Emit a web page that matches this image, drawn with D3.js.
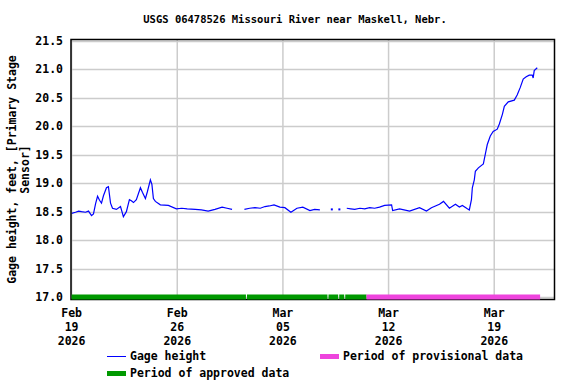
<!DOCTYPE html>
<html>
<head>
<meta charset="utf-8">
<script src="https://cdn.jsdelivr.net/npm/d3@7"></script>
<style>
  body { margin: 0; background: #fff; }
  svg text { font-family: "DejaVu Sans Mono", "Liberation Mono", monospace; font-weight: bold; fill: #000; }
</style>
</head>
<body>
<div id="chart"></div>
<script>
// data (days after Feb 19 2026 00:00, gage height in feet)
const startDate = new Date(2026, 1, 19);
const endDate = new Date(2026, 2, 23);

const dayOffsets = [
  0.00, 0.26, 0.46, 0.66, 0.92, 1.12, 1.32, 1.45, 1.59, 1.72, 1.85, 1.98, 2.11, 2.31, 2.44, 2.58,
  2.71, 2.97, 3.24, 3.37, 3.43, 3.63, 3.83, 3.96, 4.10, 4.29, 4.56, 4.69, 4.89, 5.02, 5.22, 5.32,
  5.42, 5.55, 5.88, 6.41, 6.94, 7.30, 7.66, 8.19, 8.60, 9.05, 9.50, 9.97, 10.30, 10.63, 10.70,
  11.45, 11.80, 12.15, 12.50, 12.81, 13.10, 13.41, 13.80, 14.13, 14.53, 14.93, 15.32, 15.79, 16.10, 16.45, 16.52,
  17.24, 17.30, 17.50, 17.74, 17.80, 18.00,
  18.23, 18.50, 18.76, 19.10, 19.42, 19.75, 20.08, 20.40, 20.74, 21.20, 21.27, 21.73, 22.39, 23.05, 23.51, 23.84, 24.37, 24.64,
  25.03, 25.43, 25.69, 25.89, 26.22, 26.35, 26.49, 26.55, 26.68, 26.75, 26.95, 27.28, 27.41, 27.54,
  27.74, 27.93, 28.20, 28.34, 28.54, 28.67, 28.93, 29.33, 29.52, 29.72, 29.92, 30.12, 30.32, 30.52,
  30.58, 30.65, 30.85
];

const gageHeight = [
  18.47, 18.49, 18.51, 18.50, 18.49, 18.51, 18.43, 18.46, 18.64, 18.77, 18.70, 18.65, 18.78, 18.92, 18.94, 18.65,
  18.56, 18.54, 18.59, 18.47, 18.41, 18.50, 18.71, 18.69, 18.66, 18.71, 18.92, 18.84, 18.73, 18.85, 19.06, 18.98,
  18.73, 18.68, 18.62, 18.61, 18.55, 18.56, 18.55, 18.54, 18.53, 18.51, 18.54, 18.58, 18.56, 18.54, null,
  18.54, 18.56, 18.57, 18.56, 18.59, 18.60, 18.62, 18.58, 18.57, 18.49, 18.56, 18.58, 18.52, 18.54, 18.53, null,
  18.54, null, null, 18.54, null, null,
  18.56, 18.55, 18.54, 18.56, 18.55, 18.57, 18.56, 18.58, 18.61, 18.62, 18.52, 18.55, 18.51, 18.57, 18.51, 18.57, 18.63, 18.68,
  18.56, 18.63, 18.58, 18.61, 18.55, 18.53, 18.71, 18.92, 19.06, 19.21, 19.27, 19.34, 19.51, 19.68,
  19.83, 19.91, 19.95, 20.04, 20.21, 20.35, 20.43, 20.46, 20.55, 20.68, 20.83, 20.87, 20.90, 20.90,
  20.85, 20.98, 21.03
];

// approval periods, [from, to] in days after start
const approvedPeriods = [[0, 11.55], [11.62, 16.95], [17.02, 17.66], [17.73, 18.06], [18.13, 19.54]];
const provisionalPeriods = [[19.54, 31.04]];

const yTicks = [17.0, 17.5, 18.0, 18.5, 19.0, 19.5, 20.0, 20.5, 21.0, 21.5];
const xTickDays = [0, 7, 14, 21, 28];

const W = 576, H = 384;
const plot = {left: 71, right: 554.5, top: 39.5, bottom: 299.5};

const svg = d3.select("#chart").append("svg")
  .attr("width", W).attr("height", H);

const dayMs = 864e5;
const toDate = d => new Date(startDate.getTime() + d * dayMs);

const x = d3.scaleTime().domain([startDate, endDate]).range([71.6, 554.6]);
const y = d3.scaleLinear().domain([16.956, 21.526]).range([plot.bottom, plot.top]);

const data = dayOffsets.map((d, i) => ({date: toDate(d), v: gageHeight[i]}));

// grid
svg.append("g").selectAll("line").data(yTicks).join("line")
  .attr("x1", plot.left).attr("x2", plot.right)
  .attr("y1", d => Math.round(y(d)) + 0.5).attr("y2", d => Math.round(y(d)) + 0.5)
  .attr("stroke", "#cccccc").attr("stroke-width", 1.5);

svg.append("g").selectAll("line").data(xTickDays).join("line")
  .attr("x1", d => x(toDate(d))).attr("x2", d => x(toDate(d)))
  .attr("y1", plot.top).attr("y2", plot.bottom)
  .attr("stroke", "#cccccc").attr("stroke-width", 1.5);

// gage height line
const line = d3.line()
  .defined(d => d.v != null)
  .x(d => x(d.date)).y(d => y(d.v));

svg.append("path").datum(data)
  .attr("fill", "none").attr("stroke", "#0000ff").attr("stroke-width", 1.2)
  .attr("d", line);

// lone points between gaps
svg.append("g").selectAll("rect")
  .data(data.filter((d, i) => d.v != null && data[i - 1] && data[i - 1].v == null && data[i + 1] && data[i + 1].v == null))
  .join("rect")
  .attr("x", d => x(d.date) - 1).attr("y", d => y(d.v) - 1)
  .attr("width", 2).attr("height", 2).attr("fill", "#0000ff");

// frame
svg.append("rect")
  .attr("x", plot.left).attr("y", plot.top)
  .attr("width", plot.right - plot.left).attr("height", plot.bottom - plot.top)
  .attr("fill", "none").attr("stroke", "#000").attr("stroke-width", 1.5);

// approval bars
const barY = y(17.0);
svg.append("g").selectAll("rect").data(approvedPeriods).join("rect")
  .attr("x", d => x(toDate(d[0]))).attr("width", d => x(toDate(d[1])) - x(toDate(d[0])))
  .attr("y", barY - 2.5).attr("height", 5).attr("fill", "#009900");
svg.append("g").selectAll("rect").data(provisionalPeriods).join("rect")
  .attr("x", d => x(toDate(d[0]))).attr("width", d => x(toDate(d[1])) - x(toDate(d[0])))
  .attr("y", barY - 2.5).attr("height", 5).attr("fill", "#ee44dd");

// y tick labels
svg.append("g").selectAll("text").data(yTicks).join("text")
  .attr("x", 63).attr("y", d => y(d) + 4)
  .attr("text-anchor", "end").style("font-size", "11.5px")
  .text(d => d.toFixed(1));

// x tick labels (3 lines)
const fmtMon = d3.timeFormat("%b"), fmtDay = d3.timeFormat("%d"), fmtYr = d3.timeFormat("%Y");
const xl = svg.append("g").selectAll("text").data(xTickDays).join("text")
  .attr("text-anchor", "middle").style("font-size", "11.5px")
  .attr("transform", d => `translate(${x(toDate(d))},317)`);
xl.append("tspan").attr("x", 0).attr("y", 0).text(d => fmtMon(toDate(d)));
xl.append("tspan").attr("x", 0).attr("y", 14).text(d => fmtDay(toDate(d)));
xl.append("tspan").attr("x", 0).attr("y", 28).text(d => fmtYr(toDate(d)));

// y axis title
const yt = svg.append("text")
  .attr("transform", `translate(16,${(plot.top + plot.bottom) / 2}) rotate(-90)`)
  .attr("text-anchor", "middle").style("font-size", "11.5px");
yt.append("tspan").attr("x", 0).attr("y", 0).text("Gage height, feet, [Primary Stage");
yt.append("tspan").attr("x", 0).attr("y", 13).text("Sensor]");

// title
svg.append("text").attr("x", 295).attr("y", 23)
  .attr("text-anchor", "middle").style("font-size", "10.5px")
  .text("USGS 06478526 Missouri River near Maskell, Nebr.");

// legend
const lg = svg.append("g").style("font-size", "11.5px");
lg.append("line").attr("x1", 107).attr("x2", 126).attr("y1", 356.5).attr("y2", 356.5)
  .attr("stroke", "#0000ff").attr("stroke-width", 1);
lg.append("text").attr("x", 130).attr("y", 360).text("Gage height");
lg.append("rect").attr("x", 320).attr("y", 354).attr("width", 19).attr("height", 5).attr("fill", "#ee44dd");
lg.append("text").attr("x", 343).attr("y", 360).text("Period of provisional data");
lg.append("rect").attr("x", 107).attr("y", 371).attr("width", 19).attr("height", 5).attr("fill", "#009900");
lg.append("text").attr("x", 130).attr("y", 377).text("Period of approved data");
</script>
</body>
</html>
